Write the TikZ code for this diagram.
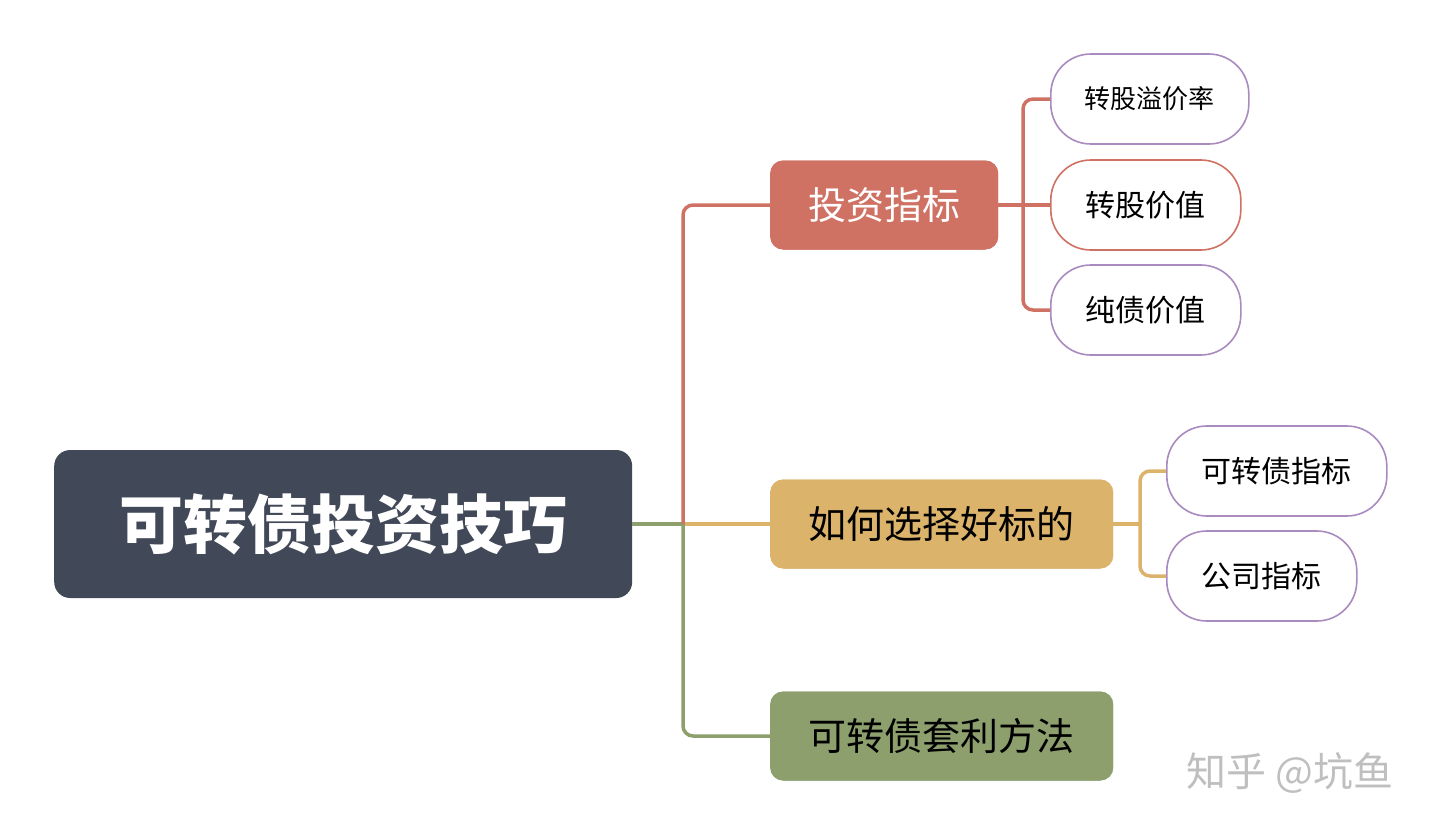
\documentclass[tikz,border=0pt]{standalone}
\usepackage{fontspec}
\setmainfont{Noto Sans CJK SC}
\begin{document}
\begin{tikzpicture}[x=1pt,y=-1pt,
  lw/.style={line width=3.5pt,rounded corners=10pt},
  l1/.style={rounded corners=13pt,minimum height=89pt,anchor=west,inner sep=0pt},
  leaf/.style={draw=#1,line width=1.6pt,fill=white,rounded corners=40pt,minimum height=90pt,anchor=west,inner sep=0pt,font=\fontsize{30}{34}\selectfont},
]
\definecolor{root}{HTML}{414857}
\definecolor{red1}{HTML}{CF7163}
\definecolor{yel}{HTML}{DBB36B}
\definecolor{grn}{HTML}{8C9F6D}
\definecolor{pur}{HTML}{A98BC0}
\useasboundingbox (0,0) rectangle (1440,835);
\node[fill=root,rounded corners=16pt,minimum width=578pt,minimum height=148pt,anchor=west,text=white,font=\bfseries\fontsize{64}{72}\selectfont] (r) at (54,524) {可转债投资技巧};
\node[l1,fill=red1,minimum width=228pt,text=white,font=\fontsize{38}{44}\selectfont] (a) at (770,205) {投资指标};
\node[l1,fill=yel,minimum width=343pt,font=\fontsize{38}{44}\selectfont] (b) at (770,524) {如何选择好标的};
\node[l1,fill=grn,minimum width=343pt,font=\fontsize{38}{44}\selectfont] (c) at (770,736) {可转债套利方法};
\node[leaf=pur,minimum width=198pt,font=\fontsize{26}{30}\selectfont] (a1) at (1050,99) {转股溢价率};
\node[leaf=red1,minimum width=190pt] (a2) at (1050,205) {转股价值};
\node[leaf=pur,minimum width=190pt] (a3) at (1050,310) {纯债价值};
\node[leaf=pur,minimum width=220pt] (b1) at (1166,471) {可转债指标};
\node[leaf=pur,minimum width=190pt] (b2) at (1166,576) {公司指标};
\coordinate (t) at (683,524);
\begin{scope}[on background layer/.try]
\draw[lw,grn] (r.east) -- (t);
\draw[lw,yel] (t) -- (b.west);
\draw[lw,red1] (t) |- (a.west);
\draw[lw,grn] (t) |- (c.west);
\draw[lw,red1] (a.east) -- (a2.west);
\draw[lw,red1] (1023,205) |- (a1.west);
\draw[lw,red1] (1023,205) |- (a3.west);
\draw[lw,yel] (b.east) -- (1140,524);
\draw[lw,yel] (1140,524) |- (b1.west);
\draw[lw,yel] (1140,524) |- (b2.west);
\end{scope}
\node[l1,fill=red1,minimum width=228pt,text=white,font=\fontsize{38}{44}\selectfont] at (770,205) {投资指标};
\node[l1,fill=yel,minimum width=343pt,font=\fontsize{38}{44}\selectfont] at (770,524) {如何选择好标的};
\node[l1,fill=grn,minimum width=343pt,font=\fontsize{38}{44}\selectfont] at (770,736) {可转债套利方法};
\node[text=black!25,font=\fontsize{40}{44}\selectfont] (w) at (1290,773) {知乎 @坑鱼};
\end{tikzpicture}
\end{document}
